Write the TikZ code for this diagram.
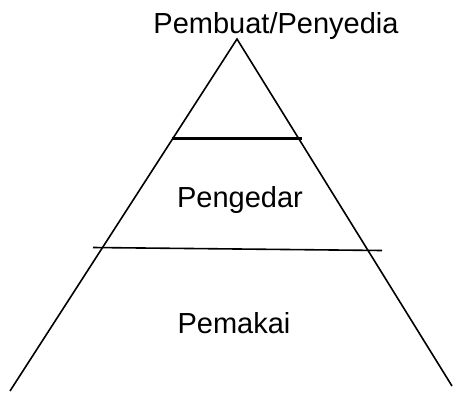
\documentclass[tikz,border=0pt]{standalone}
\usepackage{fontspec}
\setmainfont{Liberation Sans}
\begin{document}
\begin{tikzpicture}[x=1pt,y=-1pt,
  side/.style={line width=1.6pt,black},
  tier/.style={line width=1.6pt,black},
  label/.style={font=\fontsize{29}{32}\selectfont,anchor=base,inner sep=0pt}]
  \useasboundingbox (0,0) rectangle (453,394);
  % pyramid outline
  \coordinate (apex) at (237,39);
  \coordinate (bl) at (10,391);
  \coordinate (br) at (452,386);
  \draw[side] (bl) -- (apex) -- (br);
  % tier separators
  \coordinate (t1l) at (172,138.5);
  \coordinate (t1r) at (302,138.5);
  \draw[tier,line width=2.6pt] (t1l) -- (t1r);
  \coordinate (t2l) at (93,247.5);
  \coordinate (t2r) at (382,250.5);
  \draw[tier] (t2l) -- (t2r);
  % tier labels
  \node[label] (top) at (276,33) {Pembuat/Penyedia};
  \node[label] (mid) at (240,207) {Pengedar};
  \node[label] (bot) at (234,333) {Pemakai};
\end{tikzpicture}
\end{document}
